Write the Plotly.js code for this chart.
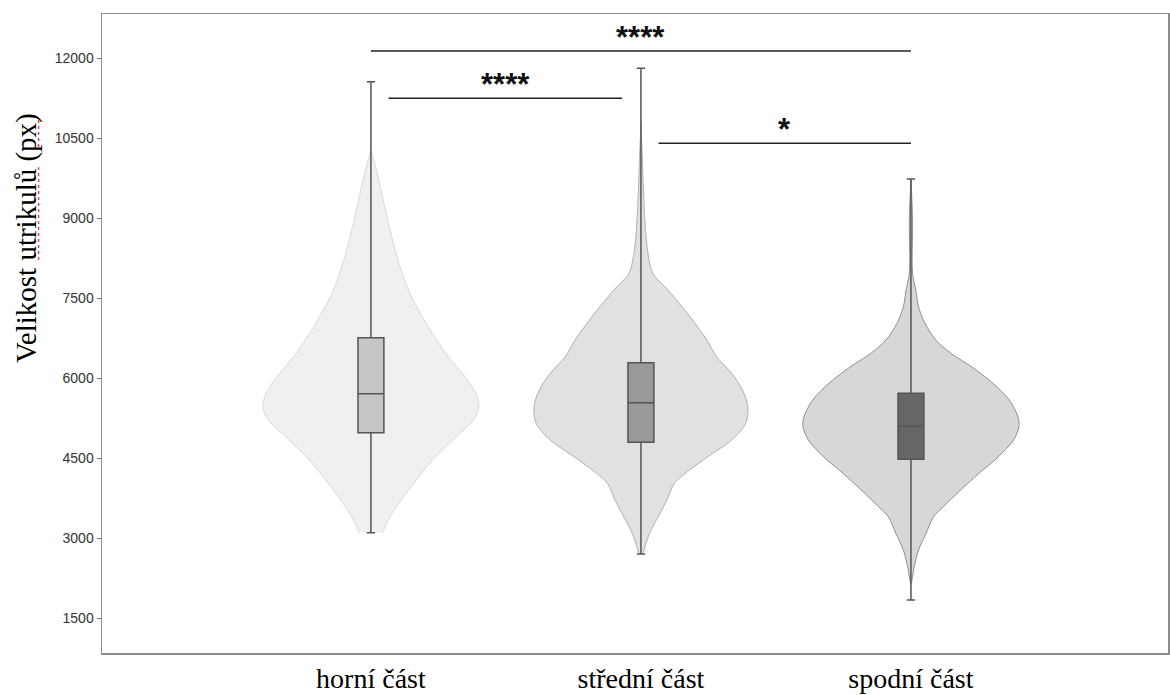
<!DOCTYPE html>
<html>
<head>
<meta charset="utf-8">
<script src="https://cdn.plot.ly/plotly-3.0.1.min.js"></script>
<style>html,body{margin:0;padding:0;background:#fff;}#chart{width:1170px;height:695px;}</style>
</head>
<body>
<div id="chart"></div>
<script>
// Categories
const categories = ["horní část", "střední část", "spodní část"];

// Violin outlines: value levels (px) and relative density (0..1)
const horniLevels   = [3100, 3338, 3713, 4088, 4463, 4900, 5213, 5462, 5713, 6025, 6338, 6650, 6962, 7588, 8213, 8837, 9463, 9900, 10275];
const horniDensity  = [0.11, 0.16, 0.28, 0.42, 0.57, 0.79, 0.95, 1.00, 0.97, 0.87, 0.74, 0.63, 0.53, 0.36, 0.25, 0.17, 0.10, 0.05, 0.0];

const stredniLevels  = [2713, 3088, 3400, 3713, 4025, 4213, 4525, 4838, 5150, 5462, 5775, 6088, 6400, 6713, 7025, 7337, 7650, 7963, 8275, 8588, 9212, 10000, 10800];
const stredniDensity = [0.02, 0.08, 0.16, 0.24, 0.31, 0.41, 0.62, 0.84, 0.97, 0.99, 0.94, 0.84, 0.70, 0.61, 0.50, 0.38, 0.25, 0.11, 0.07, 0.05, 0.03, 0.015, 0.0];

const spodniLevels  = [2150, 2462, 2775, 3088, 3400, 3587, 3900, 4213, 4525, 4838, 5088, 5275, 5588, 5900, 6212, 6463, 6713, 7025, 7337, 7650, 7963, 8963, 9731];
const spodniDensity = [0.0, 0.03, 0.07, 0.14, 0.21, 0.30, 0.46, 0.63, 0.81, 0.95, 1.00, 0.99, 0.91, 0.76, 0.56, 0.37, 0.23, 0.13, 0.07, 0.045, 0.015, 0.015, 0.0];

// Box-plot statistics
const lowerWhisker = [3100, 2700, 1837];
const q1Values     = [4975, 4794, 4475];
const medians      = [5706, 5537, 5100];
const q3Values     = [6756, 6287, 5712];
const upperWhisker = [11556, 11806, 9731];

// Significance brackets
const bracketLabels = ["****", "****", "*"];
const bracketFrom   = [0, 0.065, 1.065];
const bracketTo     = [2, 0.93, 2];
const bracketLevel  = [12131, 11244, 10400];

const yTicks = [1500, 3000, 4500, 6000, 7500, 9000, 10500, 12000];

// Styles
const violinFill = ["#f0f0f0", "#e1e1e1", "#d7d7d7"];
const violinLine = ["#d9d9d9", "#b0b0b0", "#8f8f8f"];
const boxFill    = ["#c6c6c6", "#999999", "#666666"];
const HALF_WIDTH = 0.4;
const X_RANGE = [-0.996, 2.952];
const Y_RANGE = [844, 12825];

function violinTrace(center, levels, dens, fill, line) {
  const xs = [], ys = [];
  for (let i = 0; i < levels.length; i++) { xs.push(center + dens[i] * HALF_WIDTH); ys.push(levels[i]); }
  for (let i = levels.length - 1; i >= 0; i--) { xs.push(center - dens[i] * HALF_WIDTH); ys.push(levels[i]); }
  return {
    type: "scatter", mode: "lines", x: xs, y: ys, fill: "toself", fillcolor: fill,
    line: {color: line, width: 1, shape: "spline", smoothing: 0.9},
    hoverinfo: "skip", showlegend: false, xaxis: "x", yaxis: "y"
  };
}

const traces = [
  violinTrace(0, horniLevels, horniDensity, violinFill[0], violinLine[0]),
  violinTrace(1, stredniLevels, stredniDensity, violinFill[1], violinLine[1]),
  violinTrace(2, spodniLevels, spodniDensity, violinFill[2], violinLine[2])
];

categories.forEach((c, i) => {
  traces.push({
    type: "box", name: c, x: [i], xaxis: "x2", yaxis: "y2",
    lowerfence: [lowerWhisker[i]], q1: [q1Values[i]], median: [medians[i]],
    q3: [q3Values[i]], upperfence: [upperWhisker[i]],
    width: 0.096, whiskerwidth: 0.32,
    fillcolor: boxFill[i], line: {color: "#555555", width: 1.5},
    boxpoints: false, showlegend: false
  });
});

const shapes = bracketLabels.map((l, i) => ({
  type: "line", xref: "x", yref: "y",
  x0: bracketFrom[i], x1: bracketTo[i], y0: bracketLevel[i], y1: bracketLevel[i],
  line: {color: "#222222", width: 1.5}
}));

// spell-check squiggles under the axis title words
shapes.push({type: "line", xref: "paper", yref: "paper", x0: -0.0595, x1: -0.0595, y0: 0.615, y1: 0.760,
  line: {color: "#e04848", width: 1.5, dash: "dot"}});
shapes.push({type: "line", xref: "paper", yref: "paper", x0: -0.0595, x1: -0.0595, y0: 0.792, y1: 0.834,
  line: {color: "#e04848", width: 1.5, dash: "dot"}});

const annotations = bracketLabels.map((l, i) => ({
  xref: "x", yref: "y", x: (bracketFrom[i] + bracketTo[i]) / 2, y: bracketLevel[i],
  text: "<b>" + l + "</b>", showarrow: false, yanchor: "middle", yshift: 14,
  font: {family: "Liberation Sans, Arial, sans-serif", size: 31, color: "#111"}
}));

annotations.push({
  xref: "paper", yref: "paper", x: -0.0704, y: 0.6495,
  text: "Velikost utrikulů (px)", textangle: -90, showarrow: false,
  xanchor: "center", yanchor: "middle",
  font: {family: "Liberation Serif, Times New Roman, serif", size: 29, color: "#000"}
});

const layout = {
  width: 1170, height: 695,
  margin: {l: 102, r: 2, t: 14, b: 42},
  paper_bgcolor: "#ffffff", plot_bgcolor: "#ffffff",
  showlegend: false,
  xaxis: {
    range: X_RANGE, tickvals: [0, 1, 2], ticktext: categories,
    showgrid: false, zeroline: false, showline: true, mirror: true,
    linecolor: "#8c8c8c", linewidth: 1.5, ticks: "",
    tickfont: {family: "Liberation Serif, Times New Roman, serif", size: 28, color: "#000"}
  },
  yaxis: {
    range: Y_RANGE, tickvals: yTicks, ticktext: yTicks.map(String),
    showgrid: false, zeroline: false, showline: true, mirror: true,
    linecolor: "#8c8c8c", linewidth: 1.5,
    ticks: "outside", ticklen: 4, tickcolor: "#777", tickwidth: 1,
    tickfont: {family: "Liberation Sans, Arial, sans-serif", size: 14, color: "#333"}
  },
  xaxis2: {overlaying: "x", range: X_RANGE, visible: false, showgrid: false, zeroline: false},
  yaxis2: {overlaying: "y", range: Y_RANGE, visible: false, showgrid: false, zeroline: false},
  shapes: shapes,
  annotations: annotations
};

Plotly.newPlot("chart", traces, layout, {displayModeBar: false, staticPlot: true});
</script>
</body>
</html>
